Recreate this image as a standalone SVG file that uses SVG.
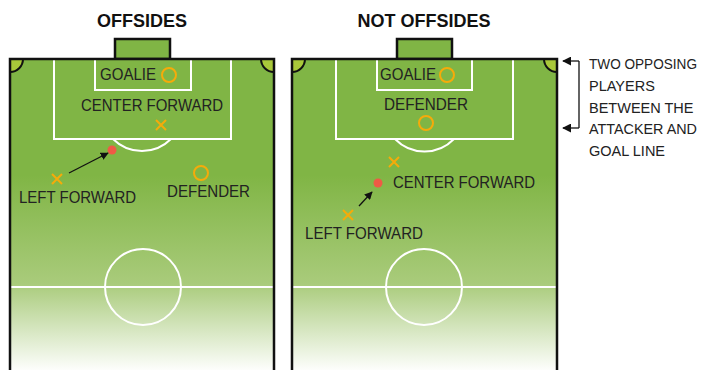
<svg xmlns="http://www.w3.org/2000/svg" width="708" height="370" viewBox="0 0 708 370">
<defs>
<linearGradient id="grass" gradientUnits="userSpaceOnUse" x1="0" y1="175" x2="0" y2="372">
<stop offset="0" stop-color="#80b545"/>
<stop offset="0.55" stop-color="#a9cb7b"/>
<stop offset="1" stop-color="#ffffff"/>
</linearGradient>
<marker id="ah" viewBox="0 0 10 10" refX="9" refY="5" markerWidth="8" markerHeight="8" markerUnits="userSpaceOnUse" orient="auto">
<path d="M0,0 L10,5 L0,10 z" fill="#111"/>
</marker>
<marker id="bh" viewBox="0 0 10 10" refX="9" refY="5" markerWidth="9" markerHeight="9" markerUnits="userSpaceOnUse" orient="auto">
<path d="M0,0 L10,5 L0,10 z" fill="#111"/>
</marker>
</defs>
<style>
.title{font-family:"Liberation Sans",Arial,sans-serif;font-weight:bold;font-size:18px;fill:#111;text-anchor:middle}
.lbl{font-family:"Liberation Sans",Arial,sans-serif;font-size:16px;fill:#222}
.note{font-family:"Liberation Sans",Arial,sans-serif;font-size:14.5px;fill:#222}
.line{fill:none;stroke:#fff;stroke-width:2}
.edge{fill:none;stroke:#111;stroke-width:2.5}
.goal{fill:#80b545;stroke:#111;stroke-width:2.5}
.corner{fill:#a9c83a;stroke:#111;stroke-width:2}
.ring{fill:none;stroke:#f5ab0a;stroke-width:2}
.cross{stroke:#f5ab0a;stroke-width:2}
.ball{fill:#ef5a45}
.arr{stroke:#111;stroke-width:1.3;fill:none}
</style>

<g id="field-offsides">
<text class="title" x="142" y="27">OFFSIDES</text>
<rect x="115" y="39" width="55" height="20" class="goal"/>
<rect x="10" y="59" width="264" height="320" fill="url(#grass)"/>
<rect x="54" y="59" width="177" height="80" class="line"/>
<rect x="95" y="59" width="96" height="31" class="line"/>
<path d="M113,139 A41,41 0 0 0 171,139" class="line"/>
<line x1="10" y1="287" x2="274" y2="287" class="line"/>
<circle cx="143" cy="287" r="38" class="line"/>
<path d="M10,59 L23,59 A13,13 0 0 1 10,72 Z" class="corner"/>
<path d="M274,59 L261,59 A13,13 0 0 0 274,72 Z" class="corner"/>
<path d="M10,372 L10,59 L274,59 L274,372" class="edge"/>
</g>

<g id="field-not-offsides">
<text class="title" x="424" y="27">NOT OFFSIDES</text>
<rect x="397" y="39" width="55" height="20" class="goal"/>
<rect x="292" y="59" width="265" height="320" fill="url(#grass)"/>
<rect x="336" y="59" width="177" height="80" class="line"/>
<rect x="377" y="59" width="95" height="31" class="line"/>
<path d="M395,139 A41,41 0 0 0 454,139" class="line"/>
<line x1="292" y1="287" x2="557" y2="287" class="line"/>
<circle cx="424" cy="287" r="38" class="line"/>
<path d="M292,59 L305,59 A13,13 0 0 1 292,72 Z" class="corner"/>
<path d="M557,59 L544,59 A13,13 0 0 0 557,72 Z" class="corner"/>
<path d="M292,372 L292,59 L557,59 L557,372" class="edge"/>
</g>

<g id="l-goalie">
<text class="lbl" x="100" y="80" textLength="56" lengthAdjust="spacingAndGlyphs">GOALIE</text>
<circle cx="169" cy="75" r="7" class="ring"/>
</g>
<g id="l-center-forward">
<text class="lbl" x="81" y="111" textLength="142" lengthAdjust="spacingAndGlyphs">CENTER FORWARD</text>
<path d="M156,120 L166,130 M166,120 L156,130" class="cross"/>
</g>
<g id="l-ball">
<circle cx="112" cy="150" r="4.5" class="ball"/>
</g>
<g id="l-left-forward">
<path d="M52,174 L62,184 M62,174 L52,184" class="cross"/>
<text class="lbl" x="19" y="203" textLength="117" lengthAdjust="spacingAndGlyphs">LEFT FORWARD</text>
</g>
<g id="l-defender">
<circle cx="201" cy="173" r="7" class="ring"/>
<text class="lbl" x="167" y="197" textLength="83" lengthAdjust="spacingAndGlyphs">DEFENDER</text>
</g>

<g id="r-goalie">
<text class="lbl" x="380" y="80" textLength="56" lengthAdjust="spacingAndGlyphs">GOALIE</text>
<circle cx="447" cy="75" r="7" class="ring"/>
</g>
<g id="r-defender">
<text class="lbl" x="384" y="110" textLength="84" lengthAdjust="spacingAndGlyphs">DEFENDER</text>
<circle cx="426" cy="123" r="7" class="ring"/>
</g>
<g id="r-center-forward">
<path d="M389,157 L399,167 M399,157 L389,167" class="cross"/>
<circle cx="378" cy="183" r="4.5" class="ball"/>
<text class="lbl" x="393" y="188" textLength="142" lengthAdjust="spacingAndGlyphs">CENTER FORWARD</text>
</g>
<g id="r-left-forward">
<path d="M343,210 L353,220 M353,210 L343,220" class="cross"/>
<text class="lbl" x="305" y="239" textLength="118" lengthAdjust="spacingAndGlyphs">LEFT FORWARD</text>
</g>

<g id="annotation">
<text class="note" x="589" y="69" textLength="108" lengthAdjust="spacingAndGlyphs">TWO OPPOSING</text>
<text class="note" x="589" y="91">PLAYERS</text>
<text class="note" x="589" y="113">BETWEEN THE</text>
<text class="note" x="589" y="134" textLength="108" lengthAdjust="spacingAndGlyphs">ATTACKER AND</text>
<text class="note" x="589" y="156">GOAL LINE</text>
</g>

<g id="connectors">
<line x1="69" y1="173" x2="108" y2="153" class="arr" marker-end="url(#ah)"/>
<line x1="359" y1="206" x2="372" y2="192" class="arr" marker-end="url(#ah)"/>
<path d="M579,61 L579,128" class="arr"/>
<line x1="579" y1="61" x2="563" y2="61" class="arr" marker-end="url(#bh)"/>
<line x1="579" y1="128" x2="563" y2="128" class="arr" marker-end="url(#bh)"/>
</g>
</svg>
